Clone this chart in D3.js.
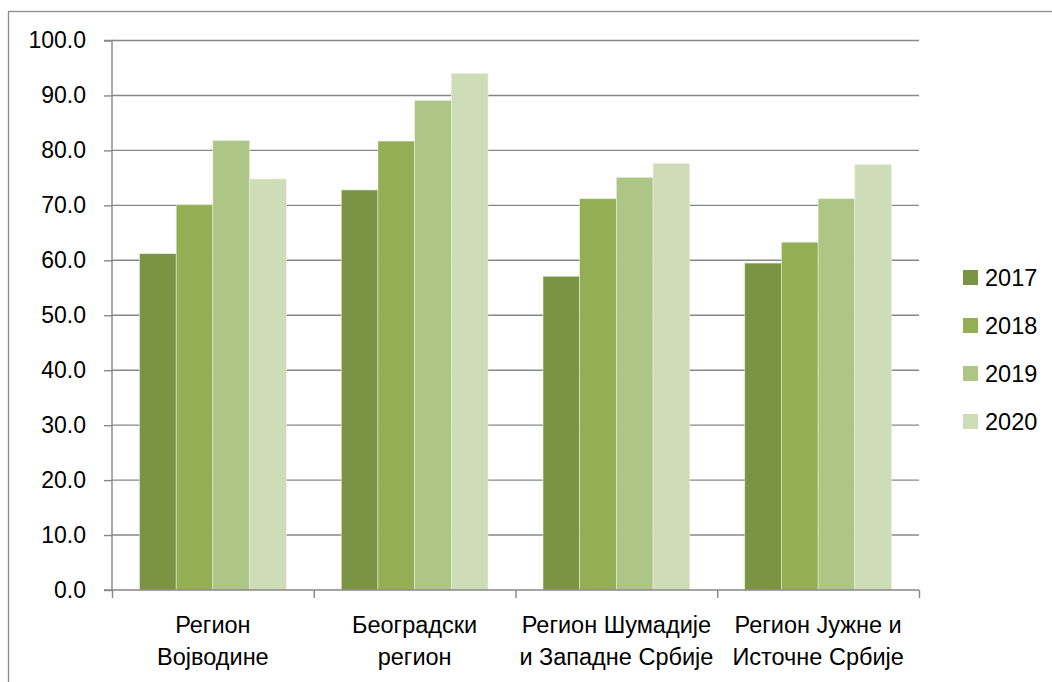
<!DOCTYPE html>
<html><head><meta charset="utf-8">
<script src="https://cdn.jsdelivr.net/npm/d3@7"></script>
<style>html,body{margin:0;padding:0;background:#fff;}svg{display:block;}</style>
</head><body>
<svg id="c" width="1052" height="682"></svg>
<script>
const categories = [["Регион","Војводине"],["Београдски","регион"],["Регион Шумадије","и Западне Србије"],["Регион Јужне и","Источне Србије"]];
const series = ["2017","2018","2019","2020"];
const v2017 = [61.2, 72.8, 57.1, 59.5];
const v2018 = [70.1, 81.7, 71.2, 63.3];
const v2019 = [81.8, 89.1, 75.1, 71.2];
const v2020 = [74.8, 94.0, 77.6, 77.4];
const yTicks = [0,10,20,30,40,50,60,70,80,90,100];
const colors = ["#7a9444","#93ae55","#aec685","#cfdcb8"];

const values = [v2017, v2018, v2019, v2020];
const svg = d3.select("#c");
const font = "'Liberation Sans', Arial, sans-serif";
const L = 112, R = 919, T = 40.5, B = 590;

svg.append("rect").attr("x",8.5).attr("y",11.5).attr("width",1100).attr("height",700)
  .attr("fill","none").attr("stroke","#8c8c8c").attr("stroke-width",1.3);

const x0 = d3.scaleBand().domain(d3.range(categories.length)).range([L,R]).paddingInner(0).paddingOuter(0);
const bw = x0.bandwidth();
const y = d3.scaleLinear().domain([0,100]).range([B,T]);

// gridlines
svg.append("g").selectAll("line").data(yTicks.filter(d=>d>0)).join("line")
  .attr("x1",L).attr("x2",R).attr("y1",d=>y(d)).attr("y2",d=>y(d))
  .attr("stroke","#878787").attr("stroke-width",1.4);

// bars
const gw = bw/ (4 + 1.5) ;
series.forEach((s,si)=>{
  svg.append("g").selectAll("rect").data(values[si]).join("rect")
    .attr("x",(d,i)=>x0(i) + gw*0.75 + si*gw)
    .attr("width",gw)
    .attr("y",d=>y(d)).attr("height",d=>B-y(d))
    .attr("fill",colors[si]).attr("stroke","#e8eedc").attr("stroke-width",0.6);
});

// y axis
const ya = d3.axisLeft(y).tickValues(yTicks).tickSize(8).tickFormat(d3.format(".1f"));
const gy = svg.append("g").attr("transform",`translate(${L},0)`).call(ya);
gy.select(".domain").attr("stroke","#878787").attr("stroke-width",1.4).attr("d",`M-8,${T}H0V${B}H-8`);
gy.selectAll(".tick line").attr("stroke","#878787").attr("stroke-width",1.4);
gy.selectAll(".tick text").attr("x",-26).attr("font-family",font).attr("font-size",23).attr("fill","#000");

// x axis
const xa = d3.axisBottom(d3.scaleLinear().domain([0,4]).range([L,R])).tickValues([0,1,2,3,4]).tickSize(8).tickFormat("");
const gx = svg.append("g").attr("transform",`translate(0,${B})`).call(xa);
gx.select(".domain").attr("stroke","#878787").attr("stroke-width",1.4).attr("d",`M${L},0H${R}`);
gx.selectAll(".tick line").attr("stroke","#878787").attr("stroke-width",1.4);

// category labels
const cl = svg.append("g");
categories.forEach((c,i)=>{
  const t = cl.append("text").attr("text-anchor","middle").attr("font-family",font).attr("font-size",23.5).attr("fill","#000");
  c.forEach((line,li)=>{
    t.append("tspan").attr("x",x0(i)+bw/2).attr("y",633+li*32).text(line);
  });
});

// legend
const lg = svg.append("g");
series.forEach((s,si)=>{
  const yy = 270 + si*48;
  lg.append("rect").attr("x",963).attr("y",yy).attr("width",15).attr("height",15).attr("fill",colors[si]);
  lg.append("text").attr("x",985).attr("y",yy+16).attr("font-family",font).attr("font-size",23.5).attr("fill","#000").text(s);
});
</script>
</body></html>
